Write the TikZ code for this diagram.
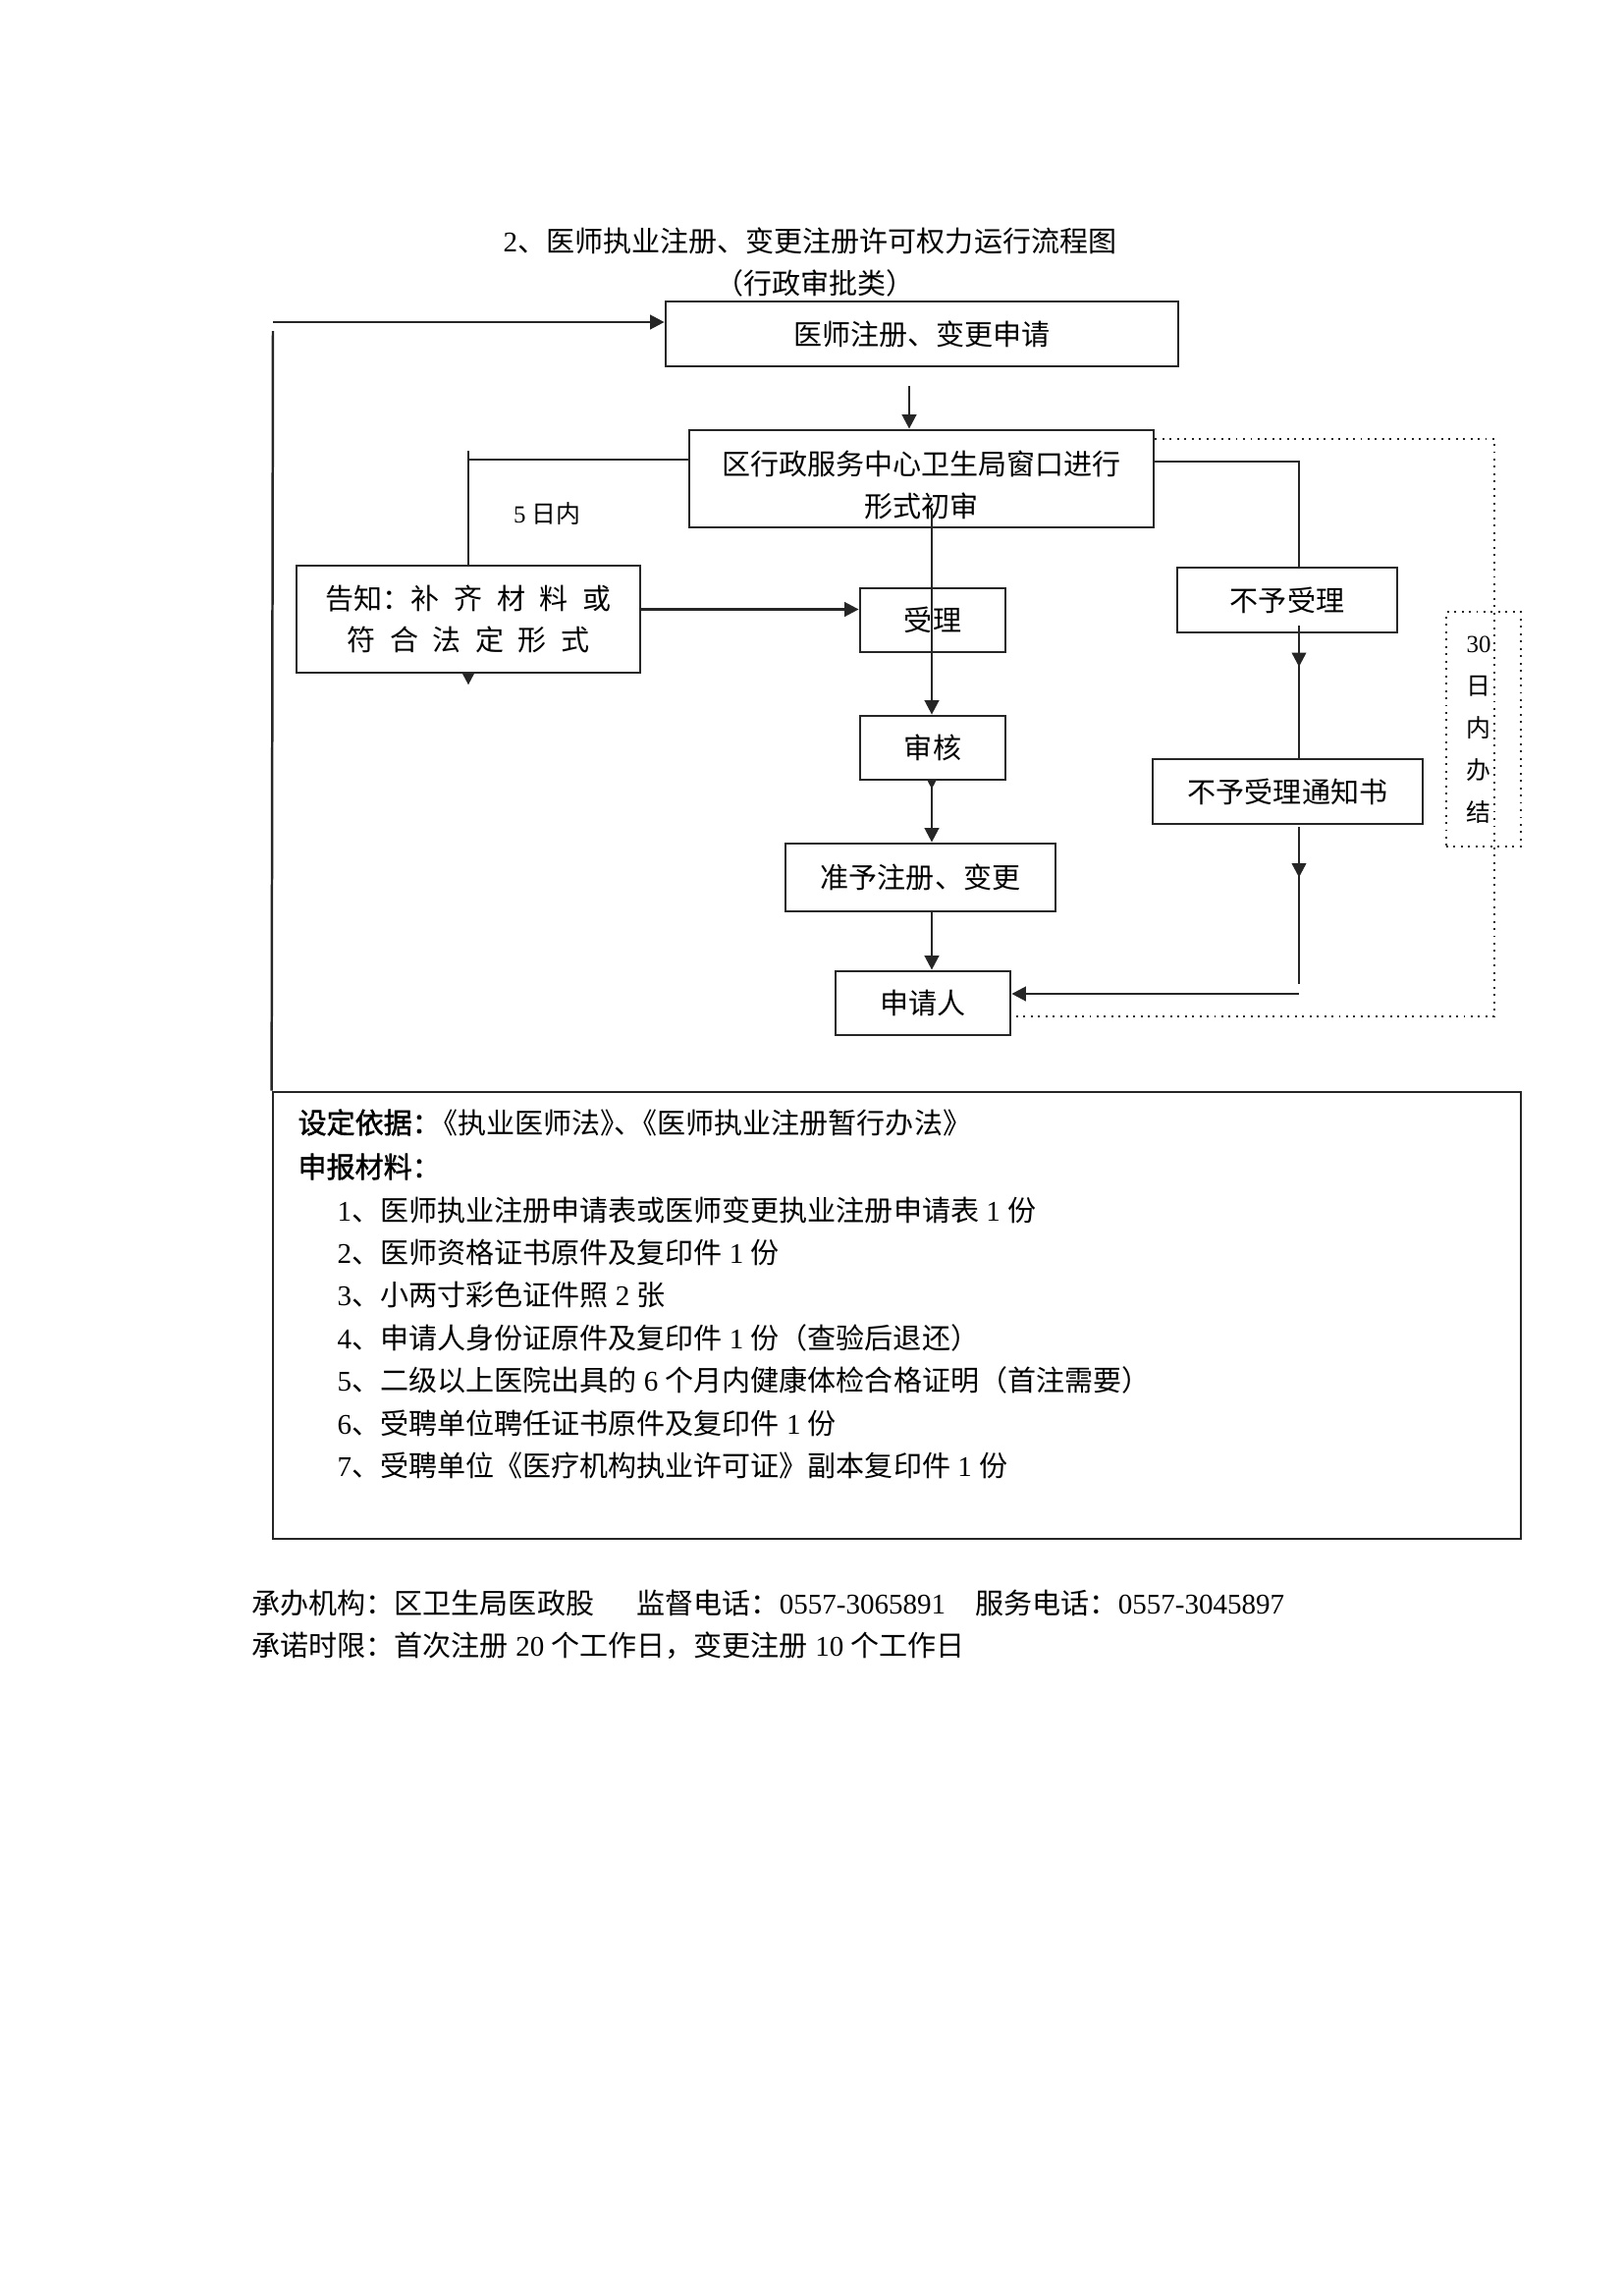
\documentclass[tikz,border=0pt]{standalone}
\usepackage{fontspec}
\setmainfont{Noto Sans CJK SC}
\newfontfamily\tnr{Liberation Serif}
\newfontfamily\cjkbold{Noto Sans CJK SC}[FakeBold=1.5]
\usetikzlibrary{arrows.meta,backgrounds,decorations.markings,calc}
\newcommand\px[1]{#1*0.127043mm}
\newcommand\dg[1]{{\tnr #1}}
\newcommand\gp{\hspace{0.5em}}
\newcommand\fz{\fontsize{10.5pt}{15.5pt}\selectfont}
\newcommand\fs{\fontsize{9pt}{15.5pt}\selectfont}
\tikzset{
  lw/.style={line width=0.9pt, color=black!85},
  box/.style={draw=black!85, line width=1pt, fill=white, inner sep=0pt, align=center, font=\fz},
  arr/.style={lw, -{Triangle[length=5.2pt,width=5.2pt]}},
  midarr/.style={lw, postaction={decorate}, decoration={markings, mark=at position #1 with {\arrow{Triangle[length=5.2pt,width=5.2pt]}}}},
  dots/.style={draw=black!85, line width=0.7pt, dotted},
  txt/.style={inner sep=0pt, font=\fz, anchor=west},
}
\begin{document}
\begin{tikzpicture}[x=0.127043mm, y=-0.127043mm]
\useasboundingbox (0,0) rectangle (1653,2338);
% titles
\node[font=\fz, inner sep=0pt] (title) at (825,245) {\dg{2}、医师执业注册、变更注册许可权力运行流程图};
\node[font=\fz, inner sep=0pt] (sub) at (830,288) {（行政审批类）};
% boxes
\node[box, minimum width=\px{522}, minimum height=\px{66}] (sq) at (939,340) {医师注册、变更申请};
\node[box, minimum width=\px{473}, minimum height=\px{99}] (cs) at (938.5,487.5) {};
\node[font=\fz, align=center, inner sep=0pt] (cst) at (938.5,494) {区行政服务中心卫生局窗口进行\\形式初审};
\node[box, minimum width=\px{350}, minimum height=\px{109}] (gz) at (477,630.5) {告知：补\gp 齐\gp 材\gp 料\gp 或\\符\gp 合\gp 法\gp 定\gp 形\gp 式};
\node[box, minimum width=\px{148}, minimum height=\px{65}] (sl) at (950,631.5) {受理};
\node[box, minimum width=\px{148}, minimum height=\px{65}] (sh) at (950,761.5) {审核};
\node[box, minimum width=\px{275}, minimum height=\px{69}] (zy) at (937.5,893.5) {准予注册、变更};
\node[box, minimum width=\px{178}, minimum height=\px{65}] (sqr) at (940,1021.5) {申请人};
\node[box, minimum width=\px{224}, minimum height=\px{66}] (bs) at (1311,611) {不予受理};
\node[box, minimum width=\px{275}, minimum height=\px{66}] (tz) at (1311.5,806) {不予受理通知书};
\node[dots, minimum width=\px{76}, minimum height=\px{239}, inner sep=0pt] (d30) at (1511,742.5) {};
\node[font=\fs, align=center, inner sep=0pt] (d30t) at (1506,743) {\dg{30}\\日\\内\\办\\结};
\node[font=\fs, inner sep=0pt] (d5) at (557,523) {\dg{5}~日内};
\node[draw=black!85, line width=1pt, minimum width=\px{1271}, minimum height=\px{455}, inner sep=0pt] (info) at (913.5,1339.5) {};
% coordinates
\coordinate (lt) at (278,328);
\coordinate (lv) at (278,337);
\coordinate (a1) at (926,393);
\coordinate (g1) at (477,459);
\coordinate (m1) at (949,520);
\coordinate (r1) at (1323,470);
\coordinate (cl) at ($(cs.west)+(0,-19.5)$);
\coordinate (cr) at ($(cs.east)+(0,-17.5)$);
\coordinate (ge) at ($(gz.east)+(0,-10)$);
\coordinate (tb) at ($(r1 |- tz.south)+(0,2)$);
\coordinate (te) at (1323,1002);
\coordinate (hr) at (1323,1012);
\coordinate (ds) at ($(cs.north east)+(0,10)$);
\coordinate (db) at (1522,1035);
% connectors hidden partly behind boxes
\begin{scope}[on background layer]
\draw[arr] (g1) -- ($(gz.south)+(0,11)$);
\draw[arr] (m1 |- sh.north) -- ($(m1 |- sh.south)+(0,8)$);
\end{scope}
% connectors
\draw[arr] (lt) -- (lt -| sq.west);
\draw[lw] (lv) -- (info.north west);
\draw[arr] (a1) -- (a1 |- cs.north);
\draw[lw] (cl) -- (cl -| g1);
\draw[arr] (ge) -- (ge -| sl.west);
\draw[arr] (m1) -- (m1 |- sh.north);
\draw[arr] (m1 |- sh.south) -- (m1 |- zy.north);
\draw[arr] (m1 |- zy.south) -- (m1 |- sqr.north);
\draw[lw] (cr) -- (cr -| r1) -- (r1 |- bs.north);
\draw[midarr=0.31] ($(r1 |- bs.south)+(0,-8)$) -- (r1 |- tz.north);
\draw[midarr=0.32] (tb) -- (te);
\draw[arr] (hr) -- (hr -| sqr.east);
\draw[dots] (ds) -- (ds -| db) -- (db) -- (db -| sqr.east);
% info box text
\node[txt] (i0) at (303,1143) {{\cjkbold 设定依据：}\kern-0.4em《执业医师法》\kern-0.5em、\kern-0.5em《医师执业注册暂行办法》};
\node[txt] (i1) at (303,1188) {{\cjkbold 申报材料：}};
\node[txt] (l1) at (343,1232) {\dg{1}、医师执业注册申请表或医师变更执业注册申请表\dg{~1~}份};
\node[txt] (l2) at (343,1275) {\dg{2}、医师资格证书原件及复印件\dg{~1~}份};
\node[txt] (l3) at (343,1318) {\dg{3}、小两寸彩色证件照\dg{~2~}张};
\node[txt] (l4) at (343,1362) {\dg{4}、申请人身份证原件及复印件\dg{~1~}份（查验后退还）};
\node[txt] (l5) at (343,1405) {\dg{5}、二级以上医院出具的\dg{~6~}个月内健康体检合格证明（首注需要）};
\node[txt] (l6) at (343,1449) {\dg{6}、受聘单位聘任证书原件及复印件\dg{~1~}份};
\node[txt] (l7) at (343,1492) {\dg{7}、受聘单位《医疗机构执业许可证》副本复印件\dg{~1~}份};
% footer
\node[txt] (f1) at (256,1632) {承办机构：区卫生局医政股};
\node[txt] (f2) at (648,1632) {监督电话：\dg{0557-3065891}};
\node[txt] (f3) at (993,1632) {服务电话：\dg{0557-3045897}};
\node[txt] (f4) at (256,1676) {承诺时限：首次注册\dg{~20~}个工作日，变更注册\dg{~10~}个工作日};
\end{tikzpicture}
\end{document}
